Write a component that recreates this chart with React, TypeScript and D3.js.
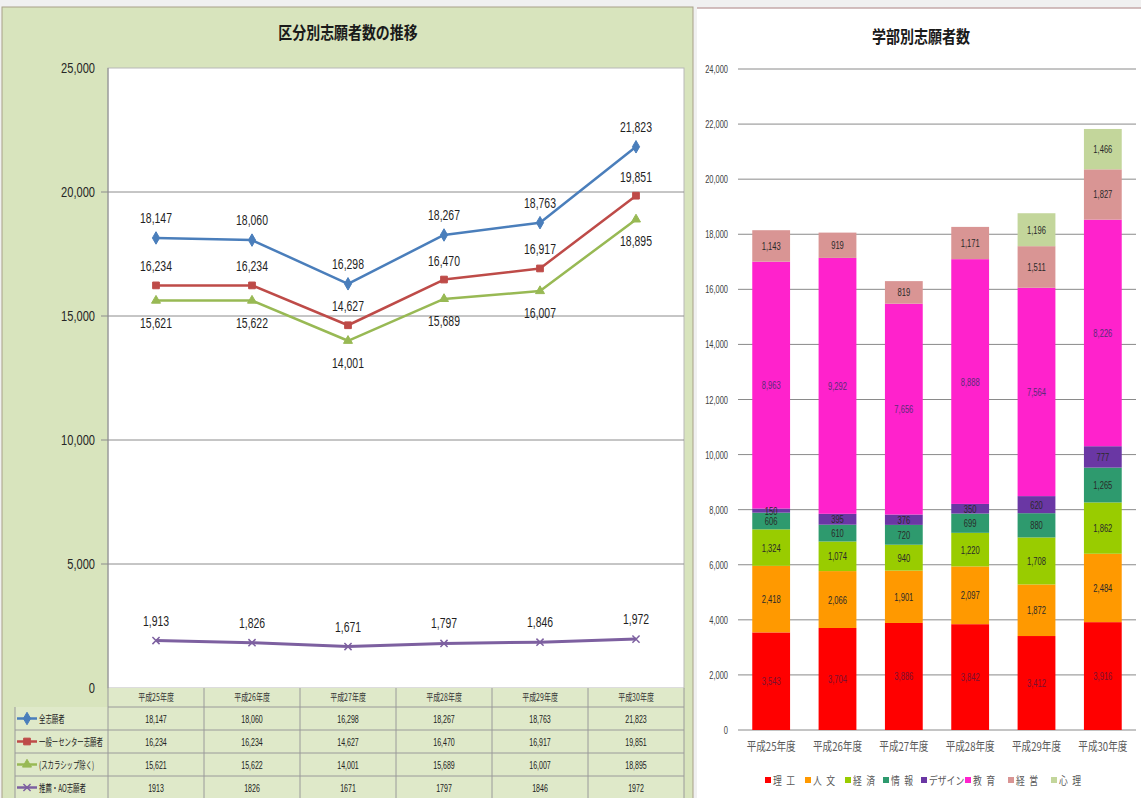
import React from "react";
import * as d3 from "d3";

// 年度
const years = ["平成25年度", "平成26年度", "平成27年度", "平成28年度", "平成29年度", "平成30年度"];

// 区分別志願者数
const seriesNames = ["全志願者", "一般ーセンター志願者", "(スカラシップ除く)", "推薦・AO志願者"];
const allApplicants = [18147, 18060, 16298, 18267, 18763, 21823];
const generalCenter = [16234, 16234, 14627, 16470, 16917, 19851];
const excludingScholarship = [15621, 15622, 14001, 15689, 16007, 18895];
const recommendationAO = [1913, 1826, 1671, 1797, 1846, 1972];
const leftTicks = [0, 5000, 10000, 15000, 20000, 25000];

// 学部別志願者数 (下から積み上げ)
const faculties = ["理\u2002工", "人\u2002文", "経\u2002済", "情\u2002報", "デザイン", "教\u2002育", "経\u2002営", "心\u2002理"];
const engineering = [3543, 3704, 3886, 3842, 3412, 3916];
const humanities = [2418, 2066, 1901, 2097, 1872, 2484];
const economics = [1324, 1074, 940, 1220, 1708, 1862];
const informatics = [606, 610, 720, 699, 880, 1265];
const design = [150, 395, 376, 350, 620, 777];
const education = [8963, 9292, 7656, 8888, 7564, 8226];
const management = [1143, 919, 819, 1171, 1511, 1827];
const psychology = [0, 0, 0, 0, 1196, 1466];
const rightTicks = [0, 2000, 4000, 6000, 8000, 10000, 12000, 14000, 16000, 18000, 20000, 22000, 24000];

const NUM_FONT = "'Liberation Sans', Arial, sans-serif";
const JP_FONT = "'Noto Sans CJK JP', sans-serif";
const fmt = d3.format(",");

const lineColors = ["#4a7ebb", "#be4b48", "#98b954", "#7d60a0"];
const barColors = ["#ff0000", "#ff9900", "#99cc00", "#2e9a6e", "#6a37a4", "#ff22cc", "#d99594", "#c3d69b"];

type TProps = {
  x: number;
  y: number;
  sx?: number;
  anchor?: "start" | "middle" | "end";
  font?: string;
  size: number;
  fill?: string;
  weight?: string;
  children: React.ReactNode;
};

// Horizontally condensed text
function T({ x, y, sx = 1, anchor = "start", font = NUM_FONT, size, fill = "#222", weight = "normal", children }: TProps) {
  return (
    <text
      transform={`translate(${x},${y}) scale(${sx},1)`}
      textAnchor={anchor}
      fontFamily={font}
      fontSize={size}
      fontWeight={weight}
      fill={fill}
      style={{ whiteSpace: "pre" }}
    >
      {children}
    </text>
  );
}

export default function App() {
  // ---- left: line chart ----
  const xL = d3.scaleBand<string>().domain(years).range([108, 684]);
  const yL = d3.scaleLinear().domain([0, 25000]).range([688, 68]);
  const cx = (i: number) => (xL(years[i]) as number) + xL.bandwidth() / 2;
  const lineSeries = [allApplicants, generalCenter, excludingScholarship, recommendationAO];
  const symbols = [d3.symbolDiamond, d3.symbolSquare, d3.symbolTriangle, d3.symbolTimes];
  const symSizes = [45, 45, 35, 35];
  const labelOffset = [-20, -19, 22, -20];
  const line = d3.line<number>().x((_, i) => cx(i)).y((d) => yL(d));

  const tableTop = 688;
  const headerH = 19;
  const rowH = 23;

  // ---- right: stacked bars ----
  const xR = d3.scaleBand<string>().domain(years).range([738, 1136]).paddingInner(0.43).paddingOuter(0.215);
  const yR = d3.scaleLinear().domain([0, 24000]).range([730, 69]);
  const layers = [engineering, humanities, economics, informatics, design, education, management, psychology];
  const rows = years.map((y, i) => {
    const o: Record<string, number | string> = { year: y };
    faculties.forEach((f, k) => (o[f] = layers[k][i]));
    return o;
  });
  const stacked = d3.stack<any>().keys(faculties)(rows);
  const legendX = [767, 807, 847, 885, 923, 967, 1010, 1053];

  return (
    <div style={{ position: "fixed", left: 0, top: 0 }}>
      <svg width={1141} height={798} style={{ display: "block" }}>
        <rect x={0} y={0} width={1141} height={798} fill="#f0f0f0" />
        {/* left panel */}
        <rect x={2} y={7} width={691} height={793} fill="#d8e4bd" stroke="#a8a088" strokeWidth={1} />
        <T x={348} y={39} anchor="middle" font={JP_FONT} weight="bold" size={17} sx={0.82} fill="#1a1a1a">
          区分別志願者数の推移
        </T>
        <rect x={108} y={68} width={576} height={620} fill="#ffffff" stroke="#b8b8b8" strokeWidth={1} />
        <line x1={108} x2={108} y1={68} y2={688} stroke="#8c8c8c" />
        {leftTicks.map((t) => (
          <g key={t}>
            {t > 0 && t < 25000 && (
              <line x1={101} x2={684} y1={yL(t)} y2={yL(t)} stroke="#8c8c8c" strokeWidth={1} />
            )}
            <T x={95} y={yL(t) + 5} anchor="end" size={15} sx={0.74} fill="#262626">
              {fmt(t)}
            </T>
          </g>
        ))}
        {lineSeries.map((s, k) => (
          <g key={k}>
            <path d={line(s) as string} fill="none" stroke={lineColors[k]} strokeWidth={k === 3 ? 3 : 2.5} strokeLinejoin="round" />
            {s.map((v, i) => (
              <path
                key={i}
                transform={`translate(${cx(i)},${yL(v)})`}
                d={d3.symbol().type(symbols[k]).size(symSizes[k])() as string}
                fill={k === 3 ? "none" : lineColors[k]}
                stroke={lineColors[k]}
                strokeWidth={k === 3 ? 1.5 : 1}
              />
            ))}
            {s.map((v, i) => (
              <T key={"l" + i} x={cx(i)} y={yL(v) + labelOffset[k] + 5} anchor="middle" size={14.5} sx={0.72} fill="#1f1f1f">
                {fmt(v)}
              </T>
            ))}
          </g>
        ))}

        {/* data table */}
        <g>
          <rect x={15} y={tableTop + headerH} width={669} height={rowH * 4} fill="#dfe9c9" />
          <rect x={108} y={tableTop} width={576} height={headerH} fill="#dfe9c9" />
          {years.map((y, i) => (
            <T key={y} x={cx(i)} y={tableTop + 13} anchor="middle" font={JP_FONT} size={10} sx={0.7} fill="#333">
              {y}
            </T>
          ))}
          {[0, 1, 2, 3, 4].map((r) => (
            <line
              key={"h" + r}
              x1={r === 0 ? 108 : 15}
              x2={684}
              y1={tableTop + headerH + r * rowH}
              y2={tableTop + headerH + r * rowH}
              stroke="#9a9a9a"
            />
          ))}
          <line x1={15} x2={15} y1={tableTop + headerH} y2={tableTop + headerH + 4 * rowH} stroke="#9a9a9a" />
          {[0, 1, 2, 3, 4, 5, 6].map((c) => {
            const xx = 108 + c * xL.step();
            return <line key={"v" + c} x1={xx} x2={xx} y1={tableTop} y2={tableTop + headerH + 4 * rowH} stroke="#9a9a9a" />;
          })}
          {lineSeries.map((s, k) => {
            const ry = tableTop + headerH + k * rowH + rowH / 2;
            return (
              <g key={"r" + k}>
                <line x1={17} x2={37} y1={ry} y2={ry} stroke={lineColors[k]} strokeWidth={2.5} />
                <path
                  transform={`translate(27,${ry})`}
                  d={d3.symbol().type(symbols[k]).size(symSizes[k])() as string}
                  fill={k === 3 ? "none" : lineColors[k]}
                  stroke={lineColors[k]}
                  strokeWidth={k === 3 ? 1.5 : 1}
                />
                <T x={39} y={ry + 4} font={JP_FONT} size={10} sx={0.64} fill="#222">
                  {seriesNames[k]}
                </T>
                {s.map((v, i) => (
                  <T key={i} x={cx(i)} y={ry + 4} anchor="middle" size={11} sx={0.64} fill="#222">
                    {k === 3 ? String(v) : fmt(v)}
                  </T>
                ))}
              </g>
            );
          })}
        </g>

        {/* right panel */}
        <rect x={697} y={8} width={444} height={790} fill="#ffffff" />
        <line x1={697} x2={1141} y1={8} y2={8} stroke="#c4a8a8" strokeWidth={1.5} />
        <T x={921} y={43} anchor="middle" font={JP_FONT} weight="bold" size={17.5} sx={0.8} fill="#1a1a1a">
          学部別志願者数
        </T>
        {rightTicks.map((t) => (
          <g key={t}>
            <line x1={738} x2={1136} y1={yR(t)} y2={yR(t)} stroke="#8a8a8a" strokeWidth={1} />
            <T x={728} y={yR(t) + 4} anchor="end" size={11} sx={0.68} fill="#404040">
              {fmt(t)}
            </T>
          </g>
        ))}
        {stacked.map((layer, k) => (
          <g key={faculties[k]}>
            {layer.map((seg, i) => {
              const v = seg[1] - seg[0];
              if (v <= 0) return null;
              const x0 = xR(years[i]) as number;
              return (
                <rect
                  key={i}
                  x={x0}
                  y={yR(seg[1])}
                  width={xR.bandwidth()}
                  height={yR(seg[0]) - yR(seg[1])}
                  fill={barColors[k]}
                />
              );
            })}
          </g>
        ))}
        {stacked.map((layer, k) => (
          <g key={"lab" + faculties[k]}>
            {layer.map((seg, i) => {
              const v = seg[1] - seg[0];
              if (v <= 0) return null;
              const x0 = xR(years[i]) as number;
              return (
                <T
                  key={i}
                  x={x0 + xR.bandwidth() / 2}
                  y={yR((seg[0] + seg[1]) / 2) + 4}
                  anchor="middle"
                  size={11.5}
                  sx={0.66}
                  fill={k === 5 ? "#5a2a78" : k === 0 ? "#7a1030" : "#2a2a2a"}
                >
                  {fmt(v)}
                </T>
              );
            })}
          </g>
        ))}
        {years.map((y) => (
          <T
            key={y}
            x={(xR(y) as number) + xR.bandwidth() / 2}
            y={751}
            anchor="middle"
            font={JP_FONT}
            size={12}
            sx={0.8}
            fill="#595959"
          >
            {y}
          </T>
        ))}
        {faculties.map((f, k) => (
          <g key={f}>
            <rect x={legendX[k] - 2} y={777} width={6} height={6} fill={barColors[k]} />
            <T x={legendX[k] + 6} y={785} font={JP_FONT} size={11} sx={0.8} fill="#595959">
              {f}
            </T>
          </g>
        ))}
      </svg>
    </div>
  );
}
